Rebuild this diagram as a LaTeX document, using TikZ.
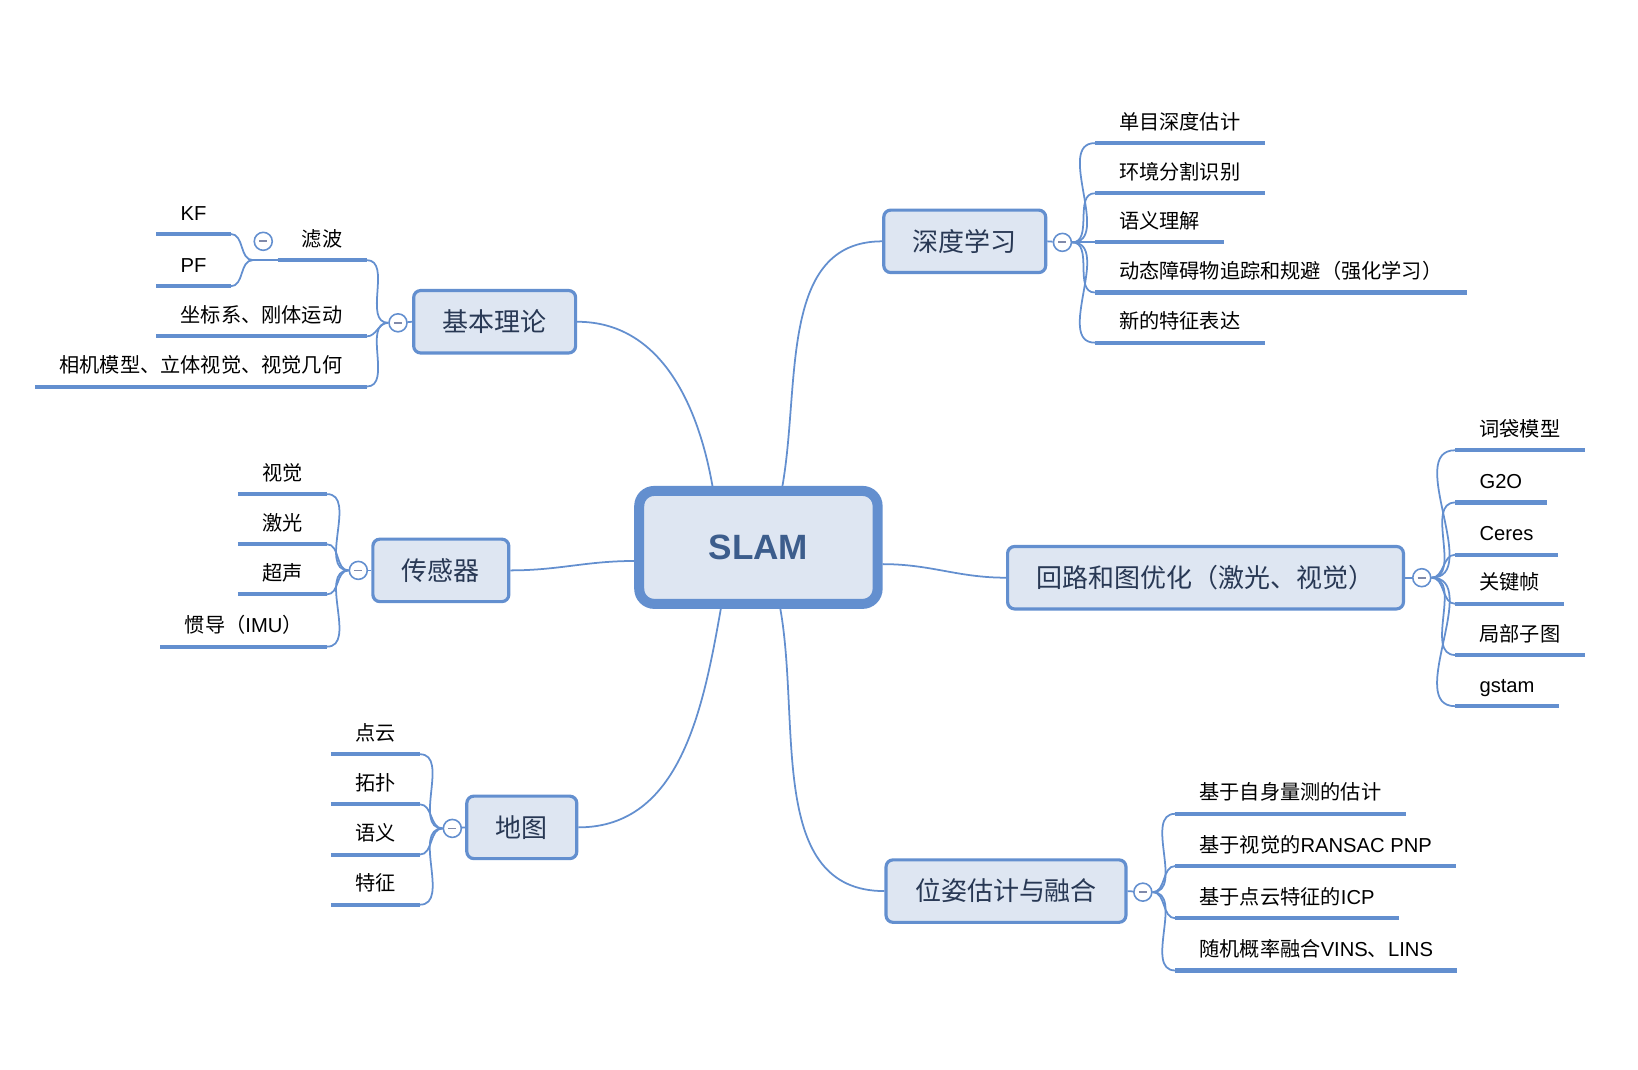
\documentclass[tikz,border=0pt]{standalone}
\usepackage{fontspec}
\setmainfont{Noto Sans CJK SC}
\newfontfamily\lat{Liberation Sans}
\newfontfamily\rootfont{Liberation Sans}
\usetikzlibrary{calc}

\definecolor{mmblue}{RGB}{99,143,207}
\definecolor{mmfill}{RGB}{222,230,242}
\definecolor{mmtopic}{RGB}{40,56,84}
\definecolor{mmroot}{RGB}{60,93,140}
\definecolor{mmminus}{RGB}{128,138,170}

\tikzset{
  root/.style={draw=mmblue, fill=mmfill, line width=5.7pt, rounded corners=0.3cm,
    minimum width=4.77cm, minimum height=2.26cm, text=mmroot,
    font=\rootfont\bfseries\fontsize{20}{24}\selectfont, text height=14.3pt, text depth=0pt},
  topic/.style={draw=mmblue, fill=mmfill, line width=1.8pt, rounded corners=0.14cm,
    minimum height=1.25cm, inner xsep=0.58cm, text=mmtopic,
    font=\fontsize{14.8}{18}\selectfont, text height=13pt, text depth=1.8pt},
  fold/.style={circle, draw=mmblue, fill=white, line width=0.9pt, minimum size=0.36cm, inner sep=0pt,
    path picture={\draw[mmminus, line width=1pt] ([xshift=-2.3pt]path picture bounding box.center) -- ++(4.6pt,0);}},
  leafr/.style={anchor=south west, inner xsep=0.48cm, inner ysep=5.4pt, text depth=2.3pt,
    font=\fontsize{11.5}{14}\selectfont},
  leafl/.style={leafr, anchor=south east},
  uline/.style={mmblue, line width=2.3pt},
  link/.style={mmblue, line width=1pt},
}

\begin{document}
\begin{tikzpicture}[x=0.0209cm, y=0.0209cm]
\useasboundingbox (0,0) rectangle (1568,-1024);

% centre and main topics
\node[root] (slam) at (726,-524) {SLAM};
\node[topic] (deep) at (923.5,-231) {深度学习};
\node[topic] (theory) at (473.5,-308) {基本理论};
\node[topic] (sensor) at (422,-546) {传感器};
\node[topic] (map) at (499.5,-792) {地图};
\node[topic] (loop) at (1154,-553) {回路和图优化（激光、视觉）};
\node[topic] (pose) at (963,-853) {位姿估计与融合};

% collapse buttons
\node[fold] (fdeep) at (1017,-232) {};
\node[fold] (ftheory) at (381,-309) {};
\node[fold] (ffilter) at (252,-231) {};
\node[fold] (fsensor) at (343,-546) {};
\node[fold] (fmap) at (433,-793) {};
\node[fold] (floop) at (1361,-553) {};
\node[fold] (fpose) at (1094,-854) {};

% leaves
\node[leafr] (d1) at (1048,-137) {单目深度估计};
\node[leafr] (d2) at (1048,-185) {环境分割识别};
\node[leafr] (d3) at (1048,-232) {语义理解};
\node[leafr] (d4) at (1048,-280) {动态障碍物追踪和规避（强化学习）};
\node[leafr] (d5) at (1048,-328) {新的特征表达};

\node[leafl] (t1) at (351,-249) {滤波};
\node[leafl] (t2) at (351,-322) {坐标系、刚体运动};
\node[leafl] (t3) at (351,-370) {相机模型、立体视觉、视觉几何};
\node[leafl] (kf) at (221,-224) {\lat KF};
\node[leafl] (pf) at (221,-274) {\lat PF};
\coordinate (jfilter) at (242,-249);

\node[leafl] (s1) at (313,-473) {视觉};
\node[leafl] (s2) at (313,-521) {激光};
\node[leafl] (s3) at (313,-569) {超声};
\node[leafl] (s4) at (313,-619) {惯导（{\lat IMU}）};

\node[leafl] (m1) at (402,-722) {点云};
\node[leafl] (m2) at (402,-770) {拓扑};
\node[leafl] (m3) at (402,-818) {语义};
\node[leafl] (m4) at (402,-866) {特征};

\node[leafr] (l1) at (1393,-431) {词袋模型};
\node[leafr] (l2) at (1393,-481) {\lat G2O};
\node[leafr] (l3) at (1393,-531) {\lat Ceres};
\node[leafr] (l4) at (1393,-578) {关键帧};
\node[leafr] (l5) at (1393,-627) {局部子图};
\node[leafr] (l6) at (1393,-676) {\lat gstam};

\node[leafr] (p1) at (1125,-779) {基于自身量测的估计};
\node[leafr] (p2) at (1125,-829) {基于视觉的{\lat RANSAC PNP}};
\node[leafr] (p3) at (1125,-879) {基于点云特征的{\lat ICP}};
\node[leafr] (p4) at (1125,-929) {随机概率融合{\lat VINS}、{\lat LINS}};

% links from the centre
\draw[link] ($(slam.north)+(23,0)$) to[out=80,in=180] (deep.west);
\draw[link] ($(slam.north)+(-44,0)$) to[out=100,in=0] (theory.east);
\draw[link] ($(slam.west)+(0,-13)$) to[out=180,in=0] (sensor.east);
\draw[link] ($(slam.south)+(-36,0)$) to[out=-100,in=0] (map.east);
\draw[link] ($(slam.east)+(0,-16)$) to[out=0,in=180] (loop.west);
\draw[link] ($(slam.south)+(21,0)$) to[out=-80,in=180] (pose.west);

% topic to button
\draw[link] (deep.east) -- (fdeep);
\draw[link] (theory.west) -- (ftheory);
\draw[link] (sensor.west) -- (fsensor);
\draw[link] (map.west) -- (fmap);
\draw[link] (loop.east) -- (floop);
\draw[link] (pose.east) -- (fpose);

% branches to leaves
\foreach \n in {d1,d2,d3,d4,d5}
  \draw[link] (fdeep.east) to[out=0,in=180] (\n.south west);
\foreach \n in {l1,l2,l3,l4,l5,l6}
  \draw[link] (floop.east) to[out=0,in=180] (\n.south west);
\foreach \n in {p1,p2,p3,p4}
  \draw[link] (fpose.east) to[out=0,in=180] (\n.south west);
\foreach \n in {t1,t2,t3}
  \draw[link] (ftheory.west) to[out=180,in=0] (\n.south east);
\foreach \n in {s1,s2,s3,s4}
  \draw[link] (fsensor.west) to[out=180,in=0] (\n.south east);
\foreach \n in {m1,m2,m3,m4}
  \draw[link] (fmap.west) to[out=180,in=0] (\n.south east);
\draw[link] (t1.south west) -- (jfilter);
\foreach \n in {kf,pf}
  \draw[link] (jfilter) to[out=180,in=0] (\n.south east);

% underlines
\foreach \n in {d1,d2,d3,d4,d5,t1,t2,t3,kf,pf,s1,s2,s3,s4,m1,m2,m3,m4,l1,l2,l3,l4,l5,l6,p1,p2,p3,p4}
  \draw[uline] (\n.south west) -- (\n.south east);
\end{tikzpicture}
\end{document}
